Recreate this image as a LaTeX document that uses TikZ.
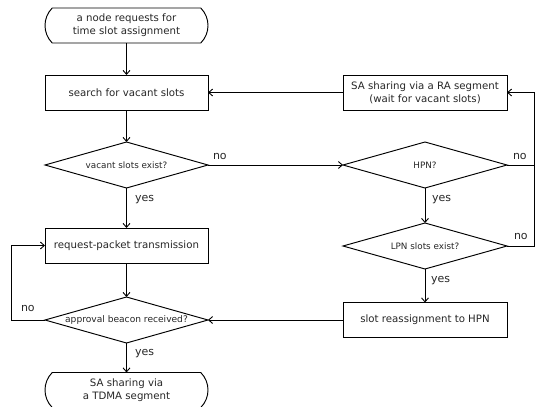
\documentclass[tikz,border=0pt]{standalone}
\usepackage{fontspec}
\setmainfont{DejaVu Sans}
\usetikzlibrary{shapes.geometric,shapes.misc,arrows.meta}
\begin{document}
\begin{tikzpicture}[x=1pt,y=-1pt,
  every node/.style={inner sep=0pt, outer sep=0pt, text=black!85},
  line/.style={line width=0.9pt},
  arr/.style={line, -{Straight Barb[length=4pt,width=7pt]}},
  procbox/.style={draw, line width=0.95pt, rectangle, minimum width=163pt, minimum height=35pt, font=\fontsize{10.2}{13}\selectfont, align=center},
  termbox/.style={draw, line width=0.95pt, rounded rectangle, rounded rectangle arc length=90, minimum width=163pt, minimum height=35pt, font=\fontsize{10.2}{13}\selectfont, align=center},
  decbox/.style={draw, line width=0.95pt, diamond, minimum width=163pt, minimum height=46pt},
  dsmall/.style={font=\fontsize{8.8}{10}\selectfont},
  dbig/.style={font=\fontsize{9.1}{11}\selectfont},
  lab/.style={font=\fontsize{11}{13}\selectfont}
]
\useasboundingbox (0,0) rectangle (536,407);

% left column
\node[termbox] (start) at (126.5,25.5) {a node requests for\\time slot assignment};
\node[procbox] (search) at (126.5,92.5) {search for vacant slots};
\node[decbox, label={[dsmall]center:vacant slots exist?}] (vac) at (126.5,165) {};
\node[procbox] (req) at (126.5,245.5) {request-packet transmission};
\node[decbox, label={[dbig]center:approval beacon received?}] (app) at (126.5,320) {};
\node[termbox] (fin) at (126.5,390) {SA sharing via\\a TDMA segment};

% right column
\node[procbox, minimum width=164pt] (ra) at (425,92.5) {SA sharing via a RA segment\\(wait for vacant slots)};
\node[decbox, minimum width=164pt, label={[dsmall]center:HPN?}] (hpn) at (425,165) {};
\node[decbox, minimum width=164pt, label={[dsmall]center:LPN slots exist?}] (lpn) at (425,246) {};
\node[procbox, minimum width=164pt] (slot) at (425,320) {slot reassignment to HPN};

\coordinate (rx) at (534.5,165);

% connectors
\draw[arr] (start) -- (search);
\draw[arr] (search) -- (vac);
\draw[arr] (vac) -- node[lab, at start, anchor=north west, xshift=8.5pt, yshift=-7pt] {yes} (req);
\draw[arr] (vac) -- node[lab, at start, anchor=south west, xshift=5pt, yshift=5pt] {no} (hpn);
\draw[arr] (req) -- (app);
\draw[arr] (app) -- node[lab, at start, anchor=north west, xshift=8.5pt, yshift=-6pt] {yes} (fin);
\draw[arr] (app.west) -- node[lab, at end, anchor=south west, xshift=10pt, yshift=8pt] {no} ++(-34,0) |- (req.west);
\draw[arr] (ra) -- (search);
\draw[arr] (hpn.east) -- node[lab, at start, anchor=south west, xshift=6pt, yshift=5.5pt] {no} (rx) |- (ra.east);
\draw[line] (lpn.east) -- node[lab, at start, anchor=south west, xshift=7pt, yshift=6pt] {no} (lpn.east -| rx) -- (rx);
\draw[arr] (hpn) -- node[lab, at start, anchor=north west, xshift=7pt, yshift=-7pt] {yes} (lpn);
\draw[arr] (lpn) -- node[lab, at start, anchor=north west, xshift=6pt, yshift=-7pt] {yes} (slot);
\draw[arr] (slot) -- (app);
\end{tikzpicture}
\end{document}
